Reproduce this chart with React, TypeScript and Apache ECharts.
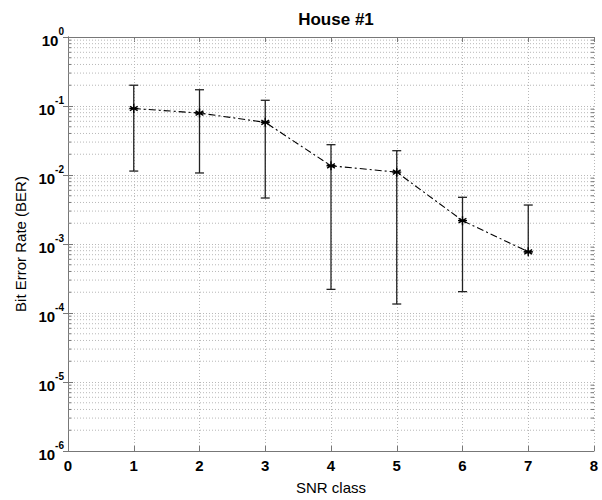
import React, { useEffect, useRef } from "react";
import * as echarts from "echarts";

const snrClass = [1, 2, 3, 4, 5, 6, 7];
const berMean = [0.092, 0.079, 0.058, 0.0136, 0.011, 0.00218, 0.00077];
const berLow = [0.0114, 0.0107, 0.00464, 0.00022, 0.000135, 0.000204, 0.00077];
const berHigh = [0.2, 0.172, 0.121, 0.0275, 0.0225, 0.00475, 0.00367];
const xTicks = [0, 1, 2, 3, 4, 5, 6, 7, 8];
const yExponents = [-6, -5, -4, -3, -2, -1, 0];
const minorMultipliers = [2, 3, 4, 5, 6, 7, 8, 9];

const FONT = "Liberation Sans, Arial, Helvetica, sans-serif";
const GRID_COLOR = "#b8b8b8";
const AXIS_COLOR = "#777";

export default function App() {
  const ref = useRef<HTMLDivElement>(null);
  useEffect(() => {
    if (!ref.current) return;
    const chart = echarts.init(ref.current, undefined, { renderer: "svg" });

    const minorValues: number[][] = [];
    for (let i = 0; i < yExponents.length - 1; i++) {
      const base = Math.pow(10, yExponents[i]);
      for (const m of minorMultipliers) minorValues.push([1, m * base]);
    }

    const lineData = snrClass.map((x, i) => [x, berMean[i]]);
    const barData = snrClass.map((x, i) => [x, berLow[i], berHigh[i]]);

    const expLabel = (v: number) => {
      const e = Math.round(Math.log10(v));
      return "{b|10}{s|" + e + "}";
    };

    const yAxisCommon = {
      type: "log",
      logBase: 10,
      min: 1e-6,
      max: 1,
      interval: 1,
      axisLine: { show: true, lineStyle: { color: AXIS_COLOR, width: 1 } },
      axisTick: { show: true, inside: true, length: 5, lineStyle: { color: AXIS_COLOR } },
    };

    chart.setOption({
      animation: false,
      title: {
        text: "House #1",
        left: 331,
        textAlign: "center",
        top: 6,
        textStyle: { fontFamily: FONT, fontSize: 17, fontWeight: "bold", color: "#000" },
      },
      grid: { left: 68, right: 8, top: 37, bottom: 49, containLabel: false },
      xAxis: [
        {
          type: "value",
          min: 0,
          max: 8,
          interval: 1,
          name: "SNR class",
          nameLocation: "middle",
          nameGap: 29,
          nameTextStyle: { fontFamily: FONT, fontSize: 15, color: "#000" },
          axisLine: { show: true, onZero: false, lineStyle: { color: AXIS_COLOR } },
          axisTick: { show: true, inside: true, length: 5, lineStyle: { color: AXIS_COLOR } },
          axisLabel: {
            fontFamily: FONT,
            fontSize: 15,
            fontWeight: "bold",
            color: "#000",
            margin: 7,
            formatter: (v: number) => (xTicks.indexOf(v) >= 0 ? String(v) : ""),
          },
          splitLine: { show: true, lineStyle: { color: GRID_COLOR, type: [1, 2], width: 1 } },
        },
        {
          type: "value",
          position: "top",
          min: 0,
          max: 8,
          interval: 1,
          axisLine: { show: true, onZero: false, lineStyle: { color: AXIS_COLOR } },
          axisTick: { show: true, inside: true, length: 5, lineStyle: { color: AXIS_COLOR } },
          axisLabel: { show: false },
          splitLine: { show: false },
        },
      ],
      yAxis: [
        {
          ...yAxisCommon,
          name: "Bit Error Rate (BER)",
          nameLocation: "middle",
          nameGap: 38,
          nameRotate: 90,
          nameTextStyle: { fontFamily: FONT, fontSize: 15, color: "#000" },
          axisLabel: {
            margin: 4,
            formatter: expLabel,
            rich: {
              b: { fontFamily: FONT, fontSize: 15, fontWeight: "bold", color: "#000", lineHeight: 22, verticalAlign: "bottom" },
              s: { fontFamily: FONT, fontSize: 10, fontWeight: "bold", color: "#000", lineHeight: 22, verticalAlign: "top", padding: [0, 0, 12, 0] },
            },
          },
          splitLine: { show: true, lineStyle: { color: GRID_COLOR, type: [1, 2], width: 1 } },
        },
        {
          ...yAxisCommon,
          position: "right",
          axisLabel: { show: false },
          splitLine: { show: false },
        },
      ],
      series: [
        {
          type: "custom",
          name: "minorGrid",
          xAxisIndex: 0,
          yAxisIndex: 0,
          data: minorValues,
          z: 1,
          silent: true,
          renderItem: (params: any, api: any) => {
            const cs = params.coordSys;
            const p = api.coord([api.value(0), api.value(1)]);
            return {
              type: "line",
              shape: { x1: cs.x, y1: p[1], x2: cs.x + cs.width, y2: p[1] },
              style: { stroke: GRID_COLOR, lineWidth: 1, lineDash: [1, 2] },
            };
          },
        },
        {
          type: "custom",
          name: "minorTicks",
          xAxisIndex: 0,
          yAxisIndex: 0,
          data: minorValues,
          z: 2,
          silent: true,
          renderItem: (params: any, api: any) => {
            const cs = params.coordSys;
            const p = api.coord([api.value(0), api.value(1)]);
            const st = { stroke: AXIS_COLOR, lineWidth: 1 };
            return {
              type: "group",
              children: [
                { type: "line", shape: { x1: cs.x, y1: p[1], x2: cs.x + 3, y2: p[1] }, style: st },
                { type: "line", shape: { x1: cs.x + cs.width - 3, y1: p[1], x2: cs.x + cs.width, y2: p[1] }, style: st },
              ],
            };
          },
        },
        {
          type: "custom",
          name: "errorbars",
          xAxisIndex: 0,
          yAxisIndex: 0,
          encode: { x: 0, y: [1, 2] },
          data: barData,
          z: 3,
          silent: true,
          renderItem: (_params: any, api: any) => {
            const x = api.value(0);
            const lo = api.value(1);
            const hi = api.value(2);
            const pHi = api.coord([x, hi]);
            const pLo = api.coord([x, lo]);
            const hw = 4.5;
            const style = { stroke: "#222", lineWidth: 1.3 };
            return {
              type: "group",
              children: [
                { type: "line", shape: { x1: pHi[0], y1: pHi[1], x2: pLo[0], y2: pLo[1] }, style },
                { type: "line", shape: { x1: pHi[0] - hw, y1: pHi[1], x2: pHi[0] + hw, y2: pHi[1] }, style },
                { type: "line", shape: { x1: pLo[0] - hw, y1: pLo[1], x2: pLo[0] + hw, y2: pLo[1] }, style },
              ],
            };
          },
        },
        {
          type: "line",
          name: "BER",
          xAxisIndex: 0,
          yAxisIndex: 0,
          data: lineData,
          z: 4,
          silent: true,
          symbol: "path://M0,-5L0,5M-4.33,-2.5L4.33,2.5M-4.33,2.5L4.33,-2.5M-5,0L5,0",
          symbolSize: 9,
          itemStyle: { color: "#000", borderColor: "#000", borderWidth: 1.4 },
          lineStyle: { color: "#000", width: 1.1, type: [7, 3, 2, 3] },
        },
      ],
    });
    return () => chart.dispose();
  }, []);
  return <div ref={ref} style={{ width: 602, height: 500, position: "absolute", left: 0, top: 0 }} />;
}
